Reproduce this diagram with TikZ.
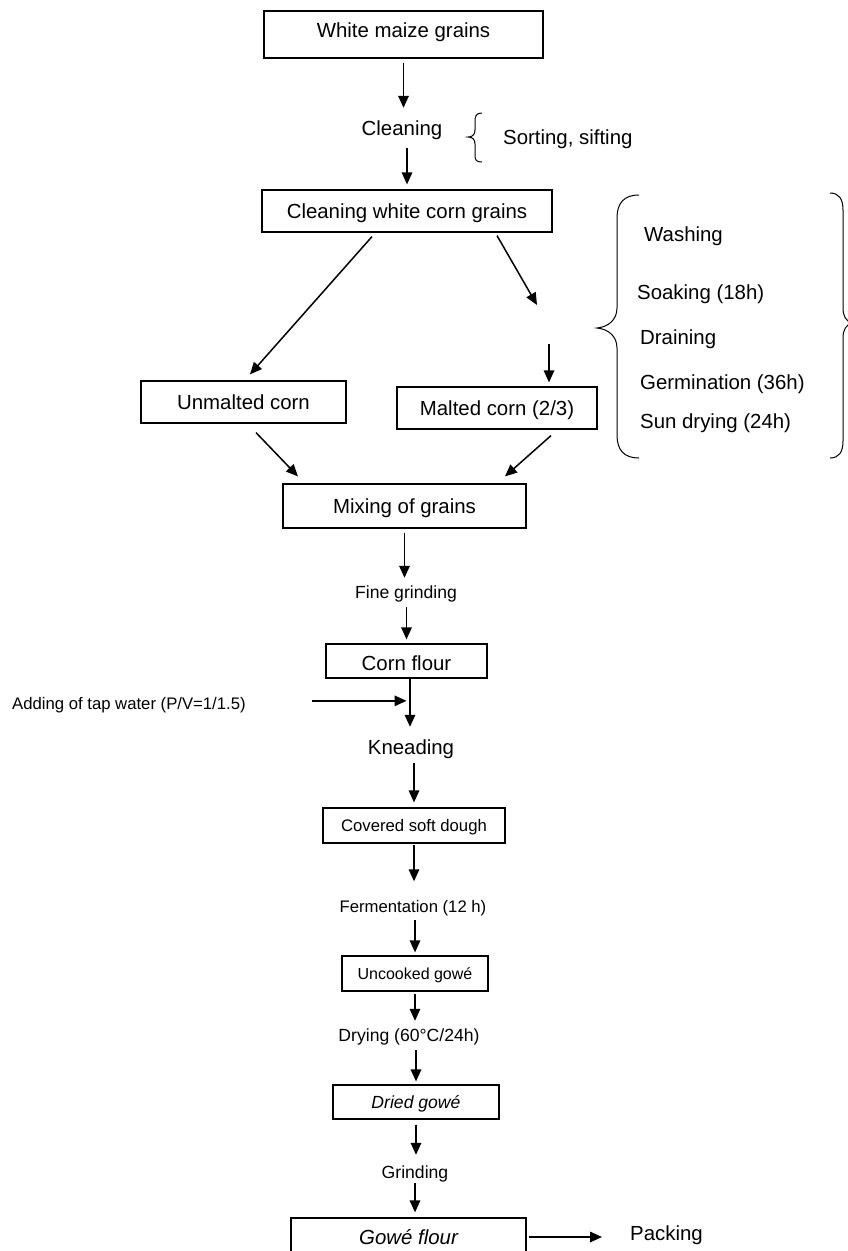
\documentclass[tikz,border=0pt]{standalone}
\usepackage{fontspec}
\setmainfont{Liberation Sans}
\usetikzlibrary{arrows.meta,calc}
\begin{document}
\begin{tikzpicture}[x=1pt,y=-1pt,
  big/.style={font=\fontsize{20.4}{24}\selectfont},
  mid/.style={font=\fontsize{17.6}{21}\selectfont},
  sml/.style={font=\fontsize{16.7}{20}\selectfont},
  box/.style={draw, line width=1.2pt, inner sep=0pt, text height=14.6pt, text depth=0pt},
  sbox/.style={draw, line width=1.2pt, inner sep=0pt, text height=12pt, text depth=0pt},
  lbl/.style={inner sep=0pt, text height=15pt, text depth=4.3pt},
  slbl/.style={inner sep=0pt, text height=13pt, text depth=3.7pt},
  arr/.style={-{Triangle[length=12pt,width=10.5pt]}, line width=1.5pt},
  brc/.style={line width=1pt}]
\useasboundingbox (0,0) rectangle (848,1251);
\fill[white] (0,0) rectangle (848,1251);

% boxes
\node[box,big,minimum width=279pt,minimum height=47pt,text depth=9pt] (b1) at (403.5,34.5) {White maize grains};
\node[box,big,minimum width=290pt,minimum height=42pt] (b2) at (407,211) {Cleaning white corn grains};
\node[box,big,minimum width=205pt,minimum height=42pt] (um) at (243.5,402) {Unmalted corn};
\node[box,big,minimum width=200pt,minimum height=42pt] (ma) at (497,408) {Malted corn (2/3)};
\node[box,big,minimum width=243pt,minimum height=44pt] (mx) at (404.5,506) {Mixing of grains};
\node[box,big,minimum width=161pt,minimum height=34pt,text height=18.6pt] (cf) at (406.5,661) {Corn flour};
\node[sbox,sml,minimum width=182pt,minimum height=35pt,text height=11.9pt] (cs) at (414,825.5) {Covered soft dough};
\node[sbox,font=\fontsize{16}{19}\selectfont,minimum width=146pt,minimum height=35pt,text height=11.5pt] (uc) at (415,973.5) {Uncooked gowé};
\node[sbox,mid,minimum width=166pt,minimum height=34pt,text height=12.7pt] (dg) at (416,1102) {\itshape Dried gowé};
\node[box,big,minimum width=235pt,minimum height=44pt,text depth=6pt] (gf) at (408.5,1240) {\itshape Gowé flour};

% text labels
\node[lbl,big,anchor=base] (cl) at (402,135.3) {Cleaning};
\node[lbl,big,anchor=base west] (ss) at (503,144.3) {Sorting, sifting};
\node[lbl,big,anchor=base west] (wa) at (644,241.3) {Washing};
\node[lbl,big,anchor=base west] (so) at (637,299.3) {Soaking (18h)};
\node[lbl,big,anchor=base west] (dr) at (640,344.3) {Draining};
\node[lbl,big,anchor=base west] (ge) at (640,389.3) {Germination (36h)};
\node[lbl,big,anchor=base west] (sd) at (640,428.3) {Sun drying (24h)};
\node[slbl,mid,anchor=base] (fg) at (406,598.3) {Fine grinding};
\node[slbl,sml,anchor=base west] (wt) at (12,709) {Adding of tap water (P/V=1/1.5)};
\node[lbl,big,anchor=base] (kn) at (411,754.3) {Kneading};
\node[slbl,sml,anchor=base] (fe) at (413,912) {Fermentation (12 h)};
\node[slbl,mid,anchor=base] (dy) at (409,1041.3) {Drying (60°C/24h)};
\node[slbl,mid,anchor=base] (gr) at (415,1178.3) {Grinding};
\node[lbl,big,anchor=base west] (pk) at (630,1240.3) {Packing};

\coordinate (m1) at (537,305);
\coordinate (m2) at (549,344);

% braces
\draw[brc] (482,113) .. controls (476,113) and (475,116) .. (475,122) -- (475,130)
  .. controls (475,135) and (472,137) .. (468,137)
  .. controls (472,137) and (475,139) .. (475,144) -- (475,155)
  .. controls (475,160) and (476,162) .. (482,162);
\draw[brc] (639,195) .. controls (624,195) and (617,203) .. (617,218) -- (617,308)
  .. controls (617,320) and (608,327) .. (597,328)
  .. controls (608,329) and (617,336) .. (617,348) -- (617,435)
  .. controls (617,450) and (624,458) .. (639,458);
\draw[brc] (830,193) .. controls (839,193) and (843,199) .. (843,210) -- (843,308)
  .. controls (843,316) and (846,322) .. (853,323)
  .. controls (846,324) and (843,330) .. (843,338) -- (843,441)
  .. controls (843,452) and (839,458) .. (830,458);

% connectors
\draw[arr] ([yshift=-4pt]b1.south) -- ([yshift=12.3pt]b1.south |- cl.north);
\draw[arr] ([yshift=-8.4pt]b2.north |- cl.south) -- ([yshift=5pt]b2.north);
\draw[arr] ([xshift=-35pt,yshift=-4pt]b2.south) -- ([xshift=6.5pt,yshift=6pt]um.north);
\draw[arr] ([xshift=90pt,yshift=-3pt]b2.south) -- (m1);
\draw[arr] (m2) -- ([xshift=52pt,yshift=4pt]ma.north);
\draw[arr] ([xshift=12.5pt,yshift=-9pt]um.south) -- ([xshift=-106.5pt,yshift=7pt]mx.north);
\draw[arr] ([xshift=54pt,yshift=-6pt]ma.south) -- ([xshift=100.5pt,yshift=7pt]mx.north);
\draw[arr] ([yshift=-4pt]mx.south) -- ([yshift=7.3pt]mx.south |- fg.north);
\draw[arr] ([yshift=-5pt]cf.north |- fg.south) -- ([yshift=4pt]cf.north);
\draw[arr] ([xshift=3.5pt]cf.south) -- ([xshift=3.5pt,yshift=12.3pt]cf.south |- kn.north);
\draw[arr] ([xshift=66pt,yshift=3.5pt]wt.east) -- ([yshift=3.5pt]cf.south |- wt.east);
\draw[arr] ([yshift=-4.4pt]cs.north |- kn.south) -- ([yshift=5pt]cs.north);
\draw[arr] ([yshift=-1pt]cs.south) -- ([yshift=17.5pt]cs.south |- fe.north);
\draw[arr] ([yshift=-4.4pt]uc.north |- fe.south) -- ([yshift=3pt]uc.north);
\draw[arr] ([yshift=-2pt]uc.south) -- ([yshift=7.3pt]uc.south |- dy.north);
\draw[arr] ([yshift=-4.9pt]dg.north |- dy.south) -- ([yshift=3pt]dg.north);
\draw[arr] ([yshift=-5pt]dg.south) -- ([yshift=10.3pt]dg.south |- gr.north);
\draw[arr] ([yshift=-1pt]gr.south) -- ([yshift=5pt]gr.south |- gf.north);
\draw[arr] ([xshift=2pt,yshift=3pt]gf.east) -- ([xshift=-28pt,yshift=3pt]pk.west |- gf.east);
\end{tikzpicture}
\end{document}
